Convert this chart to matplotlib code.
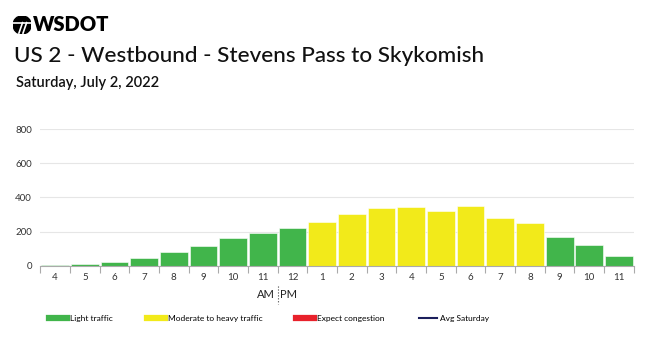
import numpy as np
import matplotlib.pyplot as plt
from matplotlib.patches import Circle
from matplotlib.lines import Line2D

plt.rcParams['font.family'] = ['Lato', 'DejaVu Sans']

hours = ['4', '5', '6', '7', '8', '9', '10', '11', '12', '1', '2', '3',
         '4', '5', '6', '7', '8', '9', '10', '11']
volume = [8, 12, 23, 47, 82, 119, 162, 191, 220, 257, 306, 337,
          345, 323, 351, 279, 249, 170, 125, 60]
level = ['light'] * 9 + ['moderate'] * 8 + ['light'] * 3

colors = {'light': '#41b54b', 'moderate': '#f2ea1a',
          'congestion': '#e8212b', 'avg': '#1b1f5c'}

fig = plt.figure(figsize=(6.5, 3.37), dpi=100)
ax = fig.add_axes([0.062, 0.211, 0.913, 0.406])

x = np.arange(len(hours))
ax.bar(x, volume, width=0.94, color=[colors[l] for l in level],
       edgecolor='white', linewidth=0.4, zorder=2)

ax.set_xlim(-0.5, len(hours) - 0.5)
ax.set_ylim(0, 800)
ax.set_yticks([0, 200, 400, 600, 800])
ax.yaxis.grid(True, color='#e6e6e6', linewidth=0.8, zorder=0)
ax.tick_params(axis='y', length=0, labelsize=7, colors='#333333', pad=6)

# category ticks between bars, labels centred under bars
ax.set_xticks(x)
ax.set_xticklabels(hours)
ax.set_xticks(np.arange(-0.5, len(hours)), minor=True)
ax.tick_params(axis='x', which='major', length=0, labelsize=7,
               colors='#333333', pad=5)
ax.tick_params(axis='x', which='minor', length=5, color='#aaaaaa', width=0.8)

for s in ['top', 'right', 'left']:
    ax.spines[s].set_visible(False)
ax.spines['bottom'].set_color('#aaaaaa')

# AM | PM marker
tr = ax.get_xaxis_transform()
ax.text(7.42, -0.21, 'AM', transform=tr, ha='right', va='center',
        fontsize=8, color='#222222')
ax.text(7.58, -0.21, 'PM', transform=tr, ha='left', va='center',
        fontsize=8, color='#222222')
ax.plot([7.5, 7.5], [-0.15, -0.28], transform=tr, color='#444444',
        linestyle=':', linewidth=0.8, clip_on=False)

# header
logo = fig.add_axes([0.02, 0.899, 0.028, 0.054])
logo.set_xlim(-1, 1)
logo.set_ylim(-1, 1)
logo.axis('off')
logo.add_patch(Circle((0, 0), 1, color='black'))
logo.plot([-1, 1], [0.25, 0.25], color='white', linewidth=1.2)
logo.plot([-0.35, 0.05], [-0.9, 0.25], color='white', linewidth=1.2)
logo.plot([0.1, 0.5], [-0.9, 0.25], color='white', linewidth=1.2)
fig.text(0.05, 0.926, 'WSDOT', fontsize=14.5, fontweight='heavy',
         va='center')

fig.text(0.022, 0.835, 'US 2 - Westbound - Stevens Pass to Skykomish',
         fontsize=16.2, fontweight='medium', va='center', color='#111111')
fig.text(0.025, 0.755, 'Saturday, July 2, 2022', fontsize=10.5,
         fontweight='semibold', va='center', color='#111111')

# legend
handles = [Line2D([], [], color=colors['light'], linewidth=4.5),
           Line2D([], [], color=colors['moderate'], linewidth=4.5),
           Line2D([], [], color=colors['congestion'], linewidth=4.5),
           Line2D([], [], color=colors['avg'], linewidth=1.5)]
labels = ['Light traffic', 'Moderate to heavy traffic',
          'Expect congestion', 'Avg Saturday']
fig.legend(handles, labels, loc='center left', bbox_to_anchor=(0.0755, 0.056),
           ncol=4, frameon=False, fontsize=6, handlelength=2.15,
           handletextpad=0.35, columnspacing=4.1, borderpad=0,
           borderaxespad=0)

fig.savefig('out.png', dpi=100)
